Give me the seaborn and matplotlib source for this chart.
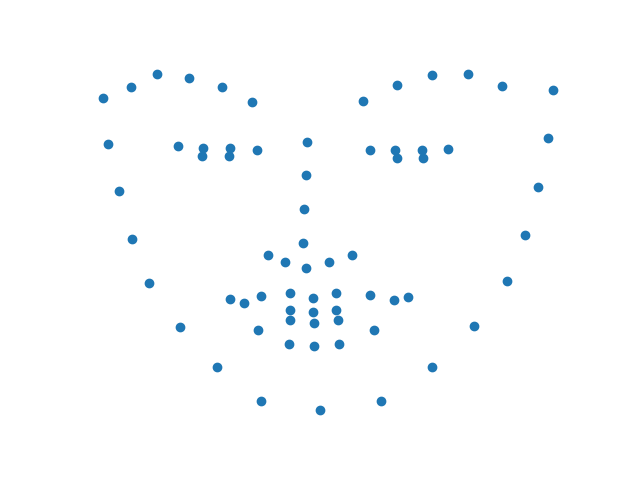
import seaborn as sb
import matplotlib.pyplot as plt
import pandas as pd
import numpy as np

# 68 face landmarks (image coordinates, y grows downward)
jaw_x = [103, 108, 119, 132, 149, 180, 217, 261, 320, 381, 432, 474, 507, 525, 538, 548, 553]
jaw_y = [98, 144, 191, 239, 283, 327, 367, 401, 410, 401, 367, 326, 281, 235, 187, 138, 90]

brow_x = [131, 157, 189, 222, 252, 363, 397, 432, 468, 502]
brow_y = [87, 74, 78, 87, 102, 101, 85, 75, 74, 86]

nose_x = [307, 306, 304, 303, 268, 285, 306, 329, 352]
nose_y = [142, 175, 209, 243, 255, 262, 268, 262, 255]

eye_x = [178, 203, 230, 257, 229, 202, 370, 395, 422, 448, 423, 397]
eye_y = [146, 148, 148, 150, 156, 156, 150, 150, 150, 149, 158, 158]

mouth_x = [230, 261, 290, 313, 336, 370, 408, 374, 339, 314, 289, 258,
           244, 290, 313, 336, 394, 338, 314, 290]
mouth_y = [299, 296, 293, 298, 293, 295, 297, 330, 344, 346, 344, 330,
           303, 310, 312, 310, 300, 320, 323, 320]

xs = jaw_x + brow_x + nose_x + eye_x + mouth_x
ys = jaw_y + brow_y + nose_y + eye_y + mouth_y
df = pd.DataFrame({"x": xs, "y": ys})

fig, ax = plt.subplots(figsize=(6.4, 4.8), dpi=100)
sb.scatterplot(data=df, x="x", y="y", ax=ax, s=36, color="#1f77b4",
               edgecolor="face", linewidth=1)
ax.invert_yaxis()
ax.axis("off")
plt.savefig("out.png")
